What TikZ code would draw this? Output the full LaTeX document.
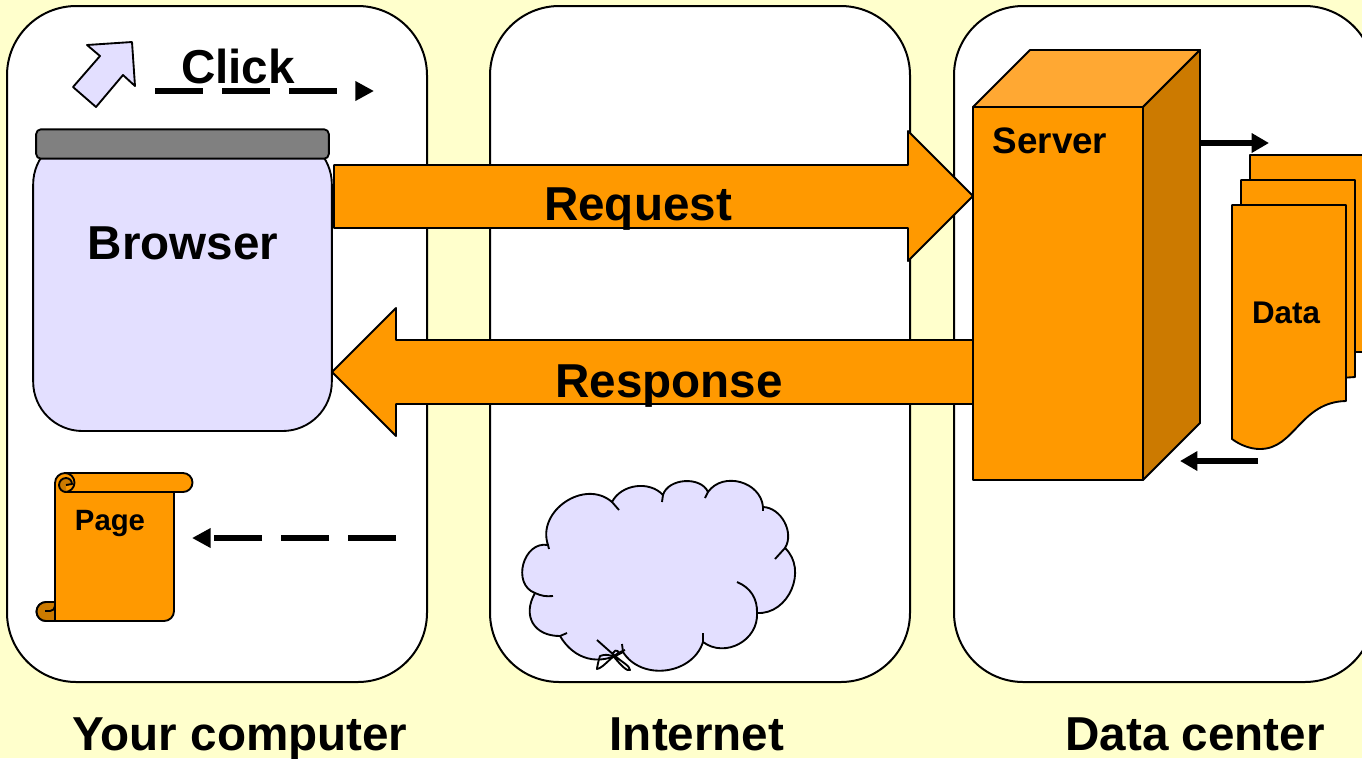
\documentclass[tikz,border=0pt]{standalone}
\usepackage{fontspec}
\setmainfont{Liberation Sans}
\usetikzlibrary{arrows.meta, positioning}

\definecolor{paleyellow}{HTML}{FFFFCC}
\definecolor{paleviolet}{HTML}{E3DFFF}
\definecolor{boxorange}{HTML}{FF9900}
\definecolor{darkorange}{HTML}{CC7A00}
\definecolor{lightorange}{HTML}{FFA833}
\definecolor{bargray}{HTML}{808080}

\tikzset{
    panel/.style={draw=black, line width=1.5pt, fill=white, rounded corners=52pt, minimum width=315pt, minimum height=507pt, inner sep=0pt},
    shape line/.style={draw=black, line width=1.4pt, line join=round},
    big label/.style={anchor=base, inner sep=0pt, font=\fontsize{35.7}{40}\selectfont\bfseries},
    small label/.style={anchor=base, inner sep=0pt, font=\fontsize{27.6}{32}\selectfont\bfseries},
    tiny label/.style={anchor=base, inner sep=0pt, font=\fontsize{22}{26}\selectfont\bfseries},
    dash arrow/.style={line width=4pt, dash pattern=on 36pt off 14.25pt, -{Triangle[length=14pt,width=14pt]}},
    solid arrow/.style={line width=4pt, -{Triangle[length=13pt,width=14pt]}}
}

\begin{document}
\begin{tikzpicture}[x=0.75pt,y=-0.75pt]
    \useasboundingbox (0,0) rectangle (1362,758);
    \clip (0,0) rectangle (1362,758);
    \fill[paleyellow] (0,0) rectangle (1362,758);

    % Panels
    \node[panel] (computer) at (217,344) {};
    \node[panel] (internet) at (700,344) {};
    \node[panel] (center) at (1164,344) {};

    % Panel captions
    \node[big label] (computerlabel) at (240,750) {Your computer};
    \node[big label] (internetlabel) at (697,750) {Internet};
    \node[big label] (centerlabel) at (1195,750) {Data center};

    % Click cursor
    \draw[shape line, fill=paleviolet] (87,45) -- (132,42) -- (135,86) -- (123,75) -- (96,107) -- (73,87) -- (100,56) -- cycle;
    \node[big label] (click) at (238,83) {Click};
    \coordinate (clickstart) at (155,91);
    \coordinate (clickend) at (374,91);
    \draw[dash arrow] (clickstart) -- (clickend);

    % Browser window
    \node[shape line, fill=paleviolet, rounded corners=37pt, minimum width=224pt, minimum height=222pt, inner sep=0pt] (browser) at (182.5,283) {};
    \node[shape line, fill=bargray, rounded corners=3.5pt, minimum width=219.5pt, minimum height=22pt, inner sep=0pt] (titlebar) at (182.5,144) {};
    \node[big label] (browserlabel) at (183,259) {Browser};

    % Page scroll
    \draw[shape line, fill=boxorange] (55,611) -- (55,483) arc[start angle=180, end angle=270, radius=10] -- (183,473) arc[start angle=-90, end angle=90, radius=9.5] -- (174,492) -- (174,611) arc[start angle=0, end angle=90, radius=10] -- (46,621) arc[start angle=90, end angle=270, radius=9.5] -- (55,602) -- cycle;
    \draw[shape line] (65,473) arc[start angle=-90, end angle=90, radius=9.5] -- (183,492);
    \draw[shape line, fill=darkorange] (66,492) arc[start angle=90, end angle=270, radius=7] arc[start angle=-90, end angle=0, radius=6] -- (66,485);
    \draw[shape line, fill=darkorange] (55,602) -- (46,602) arc[start angle=270, end angle=90, radius=9.5] -- (55,621) -- cycle;
    \draw[shape line] (45,611) -- (50,611) arc[start angle=90, end angle=0, radius=5];
    \node[tiny label] (page) at (110,530) {Page};
    \coordinate (pagestart) at (396,538);
    \coordinate (pageend) at (192,538);
    \draw[dash arrow] (pagestart) -- (pageend);

    % Cloud
    \draw[shape line, fill=paleviolet] (535,593) to[bend left=85, looseness=1.3] (548,545) to[bend left=75, looseness=1.2] (612,502) to[bend left=55] (663,495) to[bend left=70] (708,492) to[bend left=70, looseness=1.15] (763,507) to[bend left=60] (785,548) to[bend left=70, looseness=1.15] (757,613) to[bend left=65, looseness=1.15] (703,642) to[bend left=65, looseness=1.1] (623,652) to[bend left=45, looseness=1.1] (560,636) to[bend left=60, looseness=1.35] cycle;
    \draw[shape line] (612,502) -- (619,510);
    \draw[shape line] (663,495) -- (662,502);
    \draw[shape line] (708,492) -- (705,498);
    \draw[shape line] (763,507) -- (763,511);
    \draw[shape line] (785,548) -- (775,559);
    \draw[shape line] (737,582) to[bend left=35] (757,613);
    \draw[shape line] (703,642) -- (703,633);
    \draw[shape line] (623,652) -- (622,644);
    \draw[shape line] (560,636) -- (567,633);
    \draw[shape line] (535,593) to[bend right=15] (553,596);
    \draw[shape line] (548,545) -- (549,549);
    % Scribble on the cloud
    \draw[shape line] (597,640) -- (615,656) .. controls (622,662) and (630,666) .. (630,670) .. controls (627,672) and (620,664) .. (614,657) .. controls (610,650) and (620,648) .. (618,654) .. controls (614,660) and (610,652) .. (600,656) .. controls (598,662) and (597,668) .. (597,669) .. controls (604,668) and (612,654) .. (625,650);

    % Request and response arrows
    \draw[shape line, fill=boxorange] (334,165) -- (908,165) -- (908,131) -- (973,196) -- (908,261) -- (908,228) -- (334,228) -- cycle;
    \node[big label] (request) at (638,220) {Request};
    \draw[shape line, fill=boxorange] (973,340) -- (396,340) -- (396,308) -- (332,372) -- (396,436) -- (396,404) -- (973,404) -- cycle;
    \node[big label] (response) at (669,397) {Response};

    % Server
    \draw[shape line, fill=lightorange] (973,107) -- (1030,50) -- (1200,50) -- (1143,107) -- cycle;
    \draw[shape line, fill=darkorange] (1143,107) -- (1200,50) -- (1200,423) -- (1143,480) -- cycle;
    \node[shape line, fill=boxorange, minimum width=127.5pt, minimum height=279.75pt, inner sep=0pt] (server) at (1058,293.5) {};
    \node[small label] (serverlabel) at (1050,153) {Server};

    % Data sheets
    \draw[shape line, fill=boxorange] (1250,155) -- (1400,155) -- (1400,352) -- (1250,352) -- cycle;
    \draw[shape line, fill=boxorange] (1241,180) -- (1355,180) -- (1355,377) -- (1241,385) -- cycle;
    \draw[shape line, fill=boxorange] (1232,205) -- (1346,205) -- (1346,401) .. controls (1300,402) and (1295,449) .. (1260,449) .. controls (1250,449) and (1240,445) .. (1232,439) -- cycle;
    \node[tiny label, font=\fontsize{23.5}{27}\selectfont\bfseries] (data) at (1286,323) {Data};

    % Server to data arrows
    \coordinate (fetchstart) at (1200,143);
    \coordinate (fetchend) at (1269,143);
    \draw[solid arrow] (fetchstart) -- (fetchend);
    \coordinate (returnstart) at (1258,461);
    \coordinate (returnend) at (1180,461);
    \draw[solid arrow] (returnstart) -- (returnend);
\end{tikzpicture}
\end{document}
